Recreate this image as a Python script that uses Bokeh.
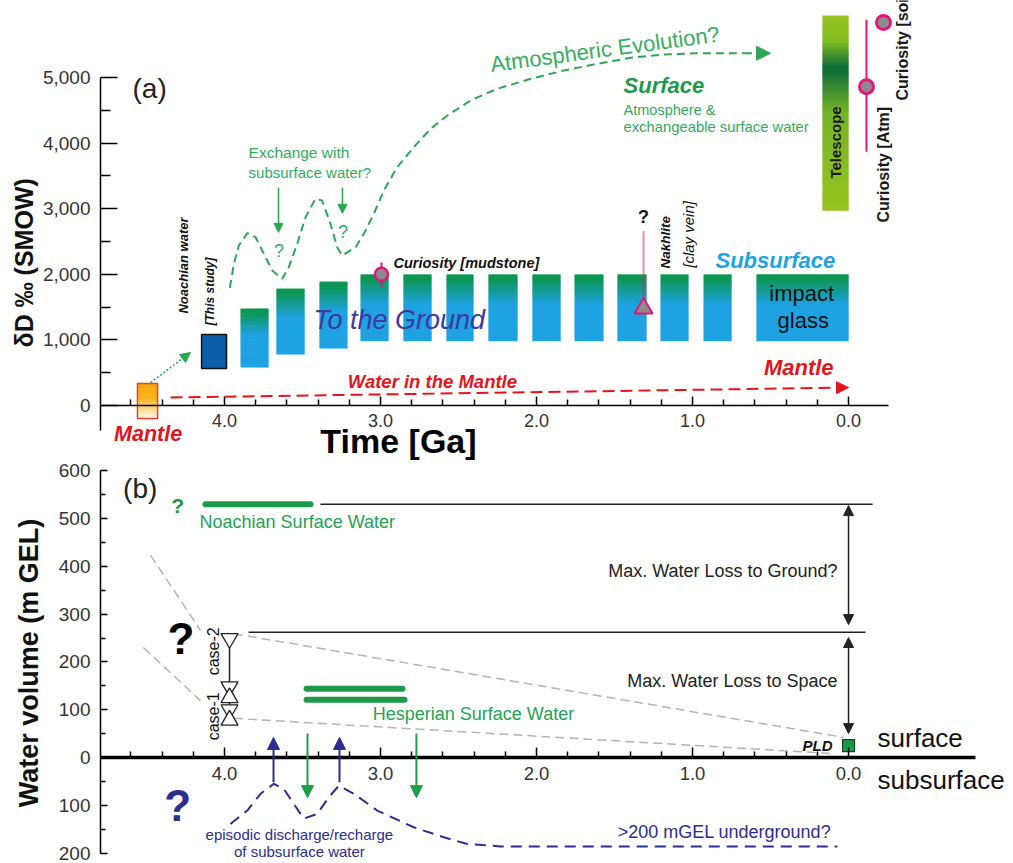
import math
from bokeh.plotting import figure
from bokeh.models import Range1d, FixedTicker, Arrow, NormalHead, Title
from bokeh.layouts import column
from bokeh.embed import file_html
from bokeh.resources import INLINE
from bokeh.core.properties import value

FONT = "Liberation Sans"

# ------------------------------------------------------------------ data (a)
a_yticks = [0, 1000, 2000, 3000, 4000, 5000]
a_ytick_labels = ["0", "1,000", "2,000", "3,000", "4,000", "5,000"]
a_yminor = [500, 1500, 2500, 3500, 4500]
time_ticks = [4, 3, 2, 1, 0]
time_tick_labels = ["4.0", "3.0", "2.0", "1.0", "0.0"]
time_minor = [4.6, 4.4, 4.2, 3.8, 3.6, 3.4, 3.2, 2.8, 2.6, 2.4, 2.2,
              1.8, 1.6, 1.4, 1.2, 0.8, 0.6, 0.4, 0.2]
time_axis_start = 4.795

mantle_box = [4.558, 4.429, -198, 335]        # left, right, bottom, top
noachian_box = [4.147, 3.987, 564, 1082]

bar_left = [3.897, 3.667, 3.391, 3.128, 2.853, 2.577, 2.308, 2.026, 1.756, 1.481, 1.205, 0.929, 0.590]
bar_right = [3.718, 3.487, 3.212, 2.949, 2.673, 2.404, 2.122, 1.846, 1.571, 1.295, 1.026, 0.750, 0.000]
bar_top = [1480, 1783, 1890, 2000, 2000, 2000, 2000, 2000, 2000, 2000, 2000, 2000, 2000]
bar_bottom = [579, 777, 869, 980, 980, 980, 980, 980, 980, 980, 980, 980, 980]

telescope = [0.167, 0.0, 2970, 5945]

atm_t = [3.966, 3.940, 3.908, 3.854, 3.801, 3.748, 3.694, 3.630, 3.588, 3.534, 3.481, 3.417,
         3.374, 3.321, 3.278, 3.246, 3.160, 3.107, 3.043, 2.979, 2.893, 2.787, 2.679, 2.572,
         2.423, 2.252, 2.038, 1.825, 1.611, 1.397, 1.184, 0.970, 0.671]
atm_v = [1794, 2160, 2439, 2627, 2566, 2313, 2058, 1931, 2108, 2465, 2870, 3151,
         3125, 2770, 2413, 2287, 2413, 2617, 2922, 3277, 3633, 3938, 4218, 4421,
         4649, 4828, 4980, 5107, 5209, 5300, 5351, 5370, 5370]
atm_tip = [0.50, 5370]

mantle_line = [4.346, 122, 0.0, 274]          # t0, v0, t1, v1
mantle_to_noachian = [4.474, 350, 4.218, 808]
exchange_arrows_t = [3.654, 3.244]
exchange_arrows_v0 = [3320, 3320]
exchange_arrows_v1 = [2640, 2930]

mudstone = [2.994, 2000, 1800, 2180]           # t, v, err low, err high
nakhlite = [1.314, 1480, 2668]                 # t, v, dotted top
curiosity_atm = [-0.115, 4860, 3870, 5880]
curiosity_soil = [-0.224, 5840]

# ------------------------------------------------------------------ data (b)
b_yticks = [-200, -100, 0, 100, 200, 300, 400, 500, 600]
b_ytick_labels = ["200", "100", "0", "100", "200", "300", "400", "500", "600"]
b_yminor = [-150, -50, 50, 150, 250, 350, 450, 550]

noachian_sw_t = [4.122, 3.449]
noachian_sw_v = 530
noachian_ref_t = [3.385, -0.154]
case2_t = [3.846, -0.109]
case2_v = 262
gray_up1_t, gray_up1_v = [4.474, 4.154], [423, 266]
gray_up2_t, gray_up2_v = [3.94, 0.03], [259, 42]
gray_lo1_t, gray_lo1_v = [4.52, 4.154], [230, 119]
gray_lo2_t, gray_lo2_v = [3.94, 0.096], [82, 8]
hesp1_t, hesp1_v = [3.474, 2.859], 144
hesp2_t, hesp2_v = [3.474, 2.846], 121
case_t = 3.968
case_down_v = [249, 148, 100]
case_up_v = [125, 78]
case_line_v = [249, 85]
blue_up_t = [3.686, 3.263]
blue_up_v = [-52, 42]
green_down_t = [3.468, 2.770]
green_down_v = [50, -84]
sub_t = [3.962, 3.854, 3.769, 3.684, 3.620, 3.556, 3.492, 3.406, 3.331, 3.267, 3.171,
         3.021, 2.787, 2.594, 2.444, 2.231, 0.072]
sub_v = [-139, -111, -76, -55, -66, -97, -128, -118, -83, -59, -76,
         -111, -146, -167, -181, -186, -186]
loss_ground = [0.0, 527, 278]
loss_space = [0.0, 251, 50]
pld = [0.0, 25]

# ------------------------------------------------------------------ helpers
GREEN_T = "#34aa5c"
GREEN_D = "#1c9a4a"
RED = "#e3141c"
MAGENTA = "#e0187c"
NAVY = "#2b2e8f"


def hexc(c):
    return "#%02x%02x%02x" % tuple(int(round(v)) for v in c)


def color_at(stops, f):
    for (f0, c0), (f1, c1) in zip(stops[:-1], stops[1:]):
        if f0 <= f <= f1:
            w = 0 if f1 == f0 else (f - f0) / (f1 - f0)
            return hexc([a + (b - a) * w for a, b in zip(c0, c1)])
    return hexc(stops[-1][1])


def gradient_quad(p, left, right, bottom, top, stops, n=50):
    L, R, B, T, C = [], [], [], [], []
    h = (top - bottom) / n
    for i in range(n):
        t0 = top - h * i
        b0 = top - h * (i + 1) - (h * 0.6 if i < n - 1 else 0)
        T.append(t0)
        B.append(b0)
        L.append(left)
        R.append(right)
        C.append(color_at(stops, (i + 0.5) / n))
    p.quad(left=L, right=R, bottom=B, top=T, fill_color=C, line_color=None)


def txt(p, x, y, s, size, color="#111111", style="normal", align="left",
        baseline="middle", angle=0.0, font=FONT):
    p.text(x=[x], y=[y], text=[s], text_font=value(font), text_font_size=f"{size}px",
           text_font_style=style, text_color=color, text_align=align,
           text_baseline=baseline, angle=angle)


def arrow(p, x0, y0, x1, y1, color, width=1.5, size=10, dash="solid", both=False):
    head = NormalHead(size=size, fill_color=color, line_color=color)
    start = NormalHead(size=size, fill_color=color, line_color=color) if both else None
    p.add_layout(Arrow(end=head, start=start, x_start=x0, y_start=y0, x_end=x1, y_end=y1,
                       line_color=color, line_width=width, line_dash=dash))


def style_common(p):
    p.xgrid.visible = False
    p.ygrid.visible = False
    p.outline_line_color = None
    p.background_fill_color = "white"
    p.border_fill_color = "white"


def style_axis(ax, tick_in, minor_in, size, standoff, lw=1.5):
    ax.major_tick_in, ax.major_tick_out = tick_in, 0
    ax.minor_tick_in, ax.minor_tick_out = minor_in, 0
    ax.axis_line_width = lw
    ax.major_tick_line_width = 1.5
    ax.minor_tick_line_width = 1.5
    ax.major_label_standoff = standoff
    ax.major_label_text_font = FONT
    ax.major_label_text_font_size = f"{size}px"
    ax.major_label_text_color = "#333333"


# ------------------------------------------------------------------ panel (a)
pa = figure(width=1012, height=463, x_range=Range1d(time_axis_start, -1.051), y_range=Range1d(-884, 6174),
            output_backend="svg", toolbar_location=None,
            min_border_left=100, min_border_right=0, min_border_top=0, min_border_bottom=0)
style_common(pa)

ya = pa.yaxis[0]
ya.ticker = FixedTicker(ticks=a_yticks, minor_ticks=a_yminor)
ya.major_label_overrides = dict(zip(a_yticks, a_ytick_labels))
ya.bounds = (-381, 5000)
style_axis(ya, 17, 10, 19, 10)
pa.add_layout(Title(text="δD ‰ (SMOW)", align="left", offset=116, text_font=FONT,
                    text_font_size="25px", text_font_style="bold", text_color="#111111",
                    standoff=4), "left")

xa = pa.xaxis[0]
xa.fixed_location = 0
xa.ticker = FixedTicker(ticks=time_ticks, minor_ticks=time_minor)
xa.major_label_overrides = dict(zip(time_ticks, time_tick_labels))
xa.bounds = (-0.256, time_axis_start)
style_axis(xa, 9, 6, 18, 8)

# telescope bar
lime = (150, 196, 30)
gradient_quad(pa, telescope[0], telescope[1], telescope[2], telescope[3],
              [(0, lime), (0.13, (130, 190, 34)), (0.27, (10, 105, 56)), (0.5, (118, 180, 40)), (1, lime)], n=70)

# subsurface bars
green = (12, 150, 84)
blue = (30, 162, 226)
for l, r, b, t in zip(bar_left, bar_right, bar_bottom, bar_top):
    gradient_quad(pa, l, r, b, t, [(0, green), (0.07, green), (0.45, blue), (1, blue)])

# mantle box
gradient_quad(pa, *mantle_box, [(0, (245, 165, 0)), (0.45, (247, 180, 30)), (1, (255, 250, 240))])
pa.quad(left=[mantle_box[0]], right=[mantle_box[1]], bottom=[mantle_box[2]], top=[mantle_box[3]],
        fill_color=None, line_color="#e8402a", line_width=1.5)
# Noachian box
pa.quad(left=[noachian_box[0]], right=[noachian_box[1]], bottom=[noachian_box[2]], top=[noachian_box[3]],
        fill_color="#0b5ea8", line_color="#111111", line_width=1.5)

# arrows & lines
arrow(pa, *mantle_line, RED, width=2, size=12, dash="12 6")
arrow(pa, *mantle_to_noachian, "#2aa84e", width=1.5, size=10, dash="2 2")
for t_, v0, v1 in zip(exchange_arrows_t, exchange_arrows_v0, exchange_arrows_v1):
    arrow(pa, t_, v0, t_, v1, "#2aa84e", width=1.5, size=9)
pa.line(atm_t, atm_v, line_color="#2ea656", line_width=2, line_dash="8 5")
arrow(pa, atm_t[-1], atm_v[-1], atm_tip[0], atm_tip[1], "#2ea656", width=2, size=14, dash="8 5")

# Curiosity mudstone
pa.segment(x0=[mudstone[0]], y0=[mudstone[2]], x1=[mudstone[0]], y1=[mudstone[3]],
           line_color=MAGENTA, line_width=2)
pa.scatter([mudstone[0]], [mudstone[1]], marker="circle", size=13, fill_color="#8c8c8c",
           line_color=MAGENTA, line_width=2.5)
# Nakhlite
pa.segment(x0=[nakhlite[0]], y0=[nakhlite[1]], x1=[nakhlite[0]], y1=[nakhlite[2]],
           line_color=MAGENTA, line_width=2, line_dash="1 1")
pa.scatter([nakhlite[0]], [nakhlite[1]], marker="triangle", size=18, fill_color="#8c8c8c",
           line_color=MAGENTA, line_width=2)
# Curiosity Atm / soil
pa.segment(x0=[curiosity_atm[0]], y0=[curiosity_atm[2]], x1=[curiosity_atm[0]], y1=[curiosity_atm[3]],
           line_color=MAGENTA, line_width=2)
pa.scatter([curiosity_atm[0], curiosity_soil[0]], [curiosity_atm[1], curiosity_soil[1]], marker="circle",
           size=14, fill_color="#8c8c8c", line_color=MAGENTA, line_width=3)

# texts (a)
R90 = math.pi / 2
txt(pa, 4.59, 4832, "(a)", 28, "#222222")
txt(pa, 4.49, -427, "Mantle", 21.5, RED, "bold italic", "center")
txt(pa, 4.263, 1402, "Noachian water", 13, "#111111", "bold italic", angle=R90)
txt(pa, 4.09, 1220, "[This study]", 12, "#111111", "bold italic", angle=R90)
txt(pa, 3.846, 3857, "Exchange with", 15.5, GREEN_T)
txt(pa, 3.846, 3552, "subsurface water?", 15, GREEN_T)
txt(pa, 3.65, 2360, "?", 18, GREEN_T, align="center")
txt(pa, 3.24, 2640, "?", 18, GREEN_T, align="center")
txt(pa, 3.43, 1296, "To the Ground", 27, "#3c3a9e", "italic")
txt(pa, 2.917, 2165, "Curiosity [mudstone]", 14.5, "#111111", "bold italic")
txt(pa, 3.21, 366, "Water in the Mantle", 18.5, RED, "bold italic")
txt(pa, 0.096, 580, "Mantle", 22, RED, "bold italic", "right")
txt(pa, 0.853, 2210, "Subsurface", 22, "#1ea3e3", "bold italic")
txt(pa, 0.30, 1707, "impact", 22, "#111111", align="center")
txt(pa, 0.29, 1296, "glass", 22, "#111111", align="center")
txt(pa, 1.173, 2088, "Nakhlite", 13.5, "#111111", "bold italic", angle=R90)
txt(pa, 1.026, 2100, "[clay vein]", 15, "#111111", "italic", angle=R90)
txt(pa, 1.314, 2870, "?", 18, "#111111", "bold", "center")
txt(pa, 2.295, 5196, "Atmospheric Evolution?", 22, "#38ad5e", baseline="alphabetic", angle=0.133)
txt(pa, 1.442, 4880, "Surface", 22, GREEN_D, "bold italic")
txt(pa, 1.442, 4500, "Atmosphere &", 14.5, GREEN_T)
txt(pa, 1.442, 4250, "exchangeable surface water", 14.8, GREEN_T)
txt(pa, 0.083, 4010, "Telescope", 15, "#1a1a1a", "bold", "center", angle=R90)
txt(pa, -0.224, 2790, "Curiosity [Atm]", 16, "#1a1a1a", "bold", angle=R90)
txt(pa, -0.346, 4650, "Curiosity [soil]", 16, "#1a1a1a", "bold", angle=R90)
txt(pa, 2.885, -534, "Time [Ga]", 34, "#000000", "bold", "center")

# ------------------------------------------------------------------ panel (b)
pb = figure(width=1012, height=399, x_range=Range1d(time_axis_start, -1.051), y_range=Range1d(-219.7, 615.1),
            output_backend="svg", toolbar_location=None,
            min_border_left=100, min_border_right=0, min_border_top=0, min_border_bottom=0)
style_common(pb)

yb = pb.yaxis[0]
yb.ticker = FixedTicker(ticks=b_yticks, minor_ticks=b_yminor)
yb.major_label_overrides = dict(zip(b_yticks, b_ytick_labels))
yb.bounds = (-200, 600)
style_axis(yb, 7, 5, 19, 10)
yb.axis_label = "Water volume (m GEL)"
yb.axis_label_text_font = FONT
yb.axis_label_text_font_size = "27px"
yb.axis_label_text_font_style = "bold"
yb.axis_label_text_color = "#111111"
yb.axis_label_standoff = 12

xb = pb.xaxis[0]
xb.fixed_location = 0
xb.ticker = FixedTicker(ticks=time_ticks, minor_ticks=time_minor)
xb.major_label_overrides = dict(zip(time_ticks, time_tick_labels))
xb.bounds = (-0.814, time_axis_start)
style_axis(xb, 10, 6, 18.5, 10, lw=3.5)

# lines
pb.line(noachian_sw_t, [noachian_sw_v] * 2, line_color=GREEN_D, line_width=6, line_cap="round")
pb.line(noachian_ref_t, [noachian_sw_v] * 2, line_color="#222222", line_width=1.5)
pb.line(case2_t, [case2_v] * 2, line_color="#222222", line_width=1.5)
for tt, vv in [(gray_up1_t, gray_up1_v), (gray_up2_t, gray_up2_v),
               (gray_lo1_t, gray_lo1_v), (gray_lo2_t, gray_lo2_v)]:
    pb.line(tt, vv, line_color="#b4b4b4", line_width=1.5, line_dash="9 5")
pb.line(hesp1_t, [hesp1_v] * 2, line_color=GREEN_D, line_width=6, line_cap="round")
pb.line(hesp2_t, [hesp2_v] * 2, line_color=GREEN_D, line_width=6, line_cap="round")

pb.segment(x0=[case_t], y0=[case_line_v[0]], x1=[case_t], y1=[case_line_v[1]],
           line_color="#222222", line_width=1.5)
pb.scatter([case_t] * len(case_down_v), case_down_v, marker="inverted_triangle", size=17,
           fill_color="white", line_color="#222222", line_width=1.3)
pb.scatter([case_t] * len(case_up_v), case_up_v, marker="triangle", size=17,
           fill_color="white", line_color="#222222", line_width=1.3)

for t_ in blue_up_t:
    arrow(pb, t_, blue_up_v[0], t_, blue_up_v[1], NAVY, width=2, size=12)
for t_ in green_down_t:
    arrow(pb, t_, green_down_v[0], t_, green_down_v[1], "#1f9e4a", width=2, size=12)
pb.line(sub_t, sub_v, line_color=NAVY, line_width=2, line_dash="11 7")

arrow(pb, loss_ground[0], loss_ground[1], loss_ground[0], loss_ground[2], "#222222", width=1.5, size=10, both=True)
arrow(pb, loss_space[0], loss_space[1], loss_space[0], loss_space[2], "#222222", width=1.5, size=10, both=True)
pb.scatter([pld[0]], [pld[1]], marker="square", size=12, fill_color="#169c48",
           line_color="#1a3a1a", line_width=1.2)

# texts (b)
txt(pb, 4.65, 562, "(b)", 28, "#222222")
txt(pb, 4.30, 527, "?", 21, GREEN_D, "bold", "center")
txt(pb, 4.16, 492, "Noachian Surface Water", 18, "#26a253")
txt(pb, 4.28, 249, "?", 44, "#000000", "bold", "center")
txt(pb, 4.30, -100, "?", 44, NAVY, "bold", "center")
txt(pb, 4.071, 172, "case-2", 16, "#111111", angle=R90)
txt(pb, 4.071, 36, "case-1", 16, "#111111", angle=R90)
txt(pb, 3.05, 90, "Hesperian Surface Water", 18, "#26a253")
txt(pb, 0.07, 391, "Max. Water Loss to Ground?", 18, "#222222", align="right")
txt(pb, 0.07, 159, "Max. Water Loss to Space", 18, "#222222", align="right")
txt(pb, 0.103, 25, "PLD", 15, "#111111", "bold italic", "right")
txt(pb, -0.186, 40, "surface", 26, "#111111")
txt(pb, -0.186, -48, "subsurface", 26, "#111111")
txt(pb, 3.52, -161, "episodic discharge/recharge", 15, NAVY, align="center")
txt(pb, 3.52, -197, "of subsurface water", 15, NAVY, align="center")
txt(pb, 1.48, -155, ">200 mGEL underground?", 18, NAVY)

layout = column(pa, pb, spacing=0)
open("out.html", "w").write(file_html(layout, INLINE))
